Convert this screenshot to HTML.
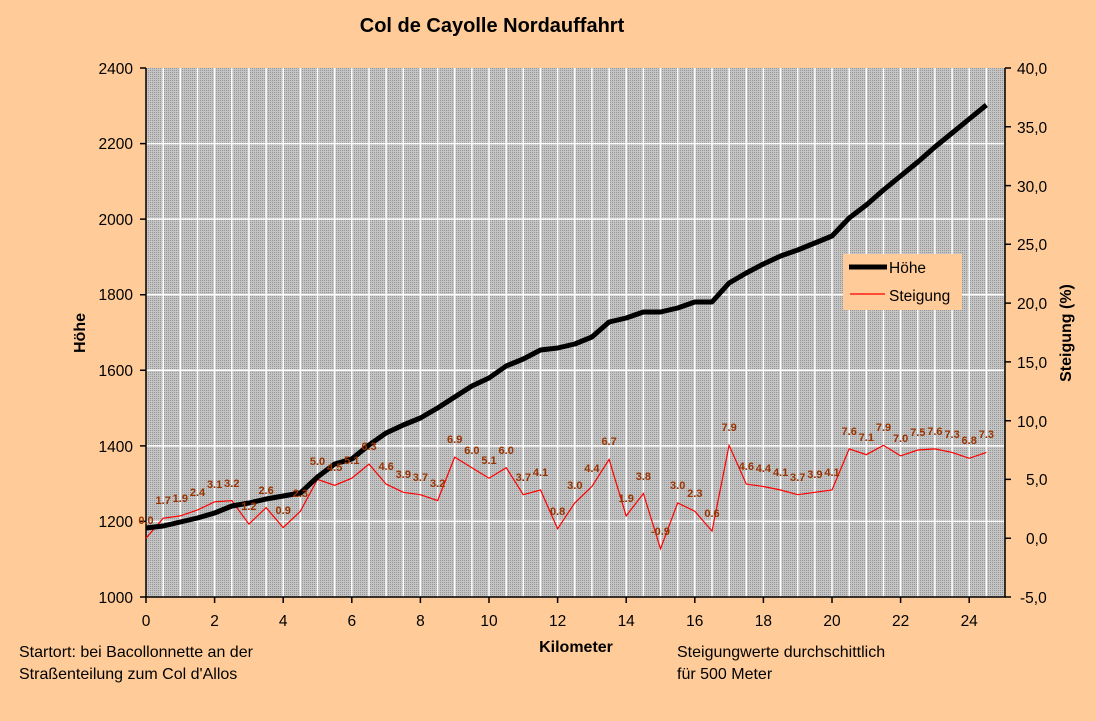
<!DOCTYPE html>
<html><head><meta charset="utf-8"><style>
body{margin:0;background:#ffcc99;}
svg{display:block;font-family:"Liberation Sans",Arial,sans-serif;}
</style></head><body>
<svg width="1096" height="721" viewBox="0 0 1096 721" xmlns="http://www.w3.org/2000/svg">
<defs>
<pattern id="dots" width="2" height="2" patternUnits="userSpaceOnUse">
<rect width="2" height="2" fill="#c4c4c4"/><rect width="1" height="1" fill="#969696"/>
</pattern>
</defs>
<rect width="1096" height="721" fill="#ffcc99"/>
<text x="492" y="32" font-size="20" font-weight="bold" text-anchor="middle">Col de Cayolle Nordauffahrt</text>
<rect x="146" y="68" width="859" height="529" fill="url(#dots)"/>
<g stroke="#fff" stroke-width="1.5">
<path d="M163.2 68V597M180.3 68V597M197.5 68V597M214.6 68V597M231.8 68V597M248.9 68V597M266.1 68V597M283.2 68V597M300.4 68V597M317.5 68V597M334.7 68V597M351.8 68V597M369 68V597M386.1 68V597M403.3 68V597M420.4 68V597M437.6 68V597M454.7 68V597M471.9 68V597M489 68V597M506.2 68V597M523.3 68V597M540.5 68V597M557.6 68V597M574.8 68V597M591.9 68V597M609.1 68V597M626.2 68V597M643.4 68V597M660.5 68V597M677.7 68V597M694.8 68V597M712 68V597M729.1 68V597M746.3 68V597M763.4 68V597M780.6 68V597M797.7 68V597M814.9 68V597M832 68V597M849.2 68V597M866.3 68V597M883.5 68V597M900.6 68V597M917.8 68V597M934.9 68V597M952.1 68V597M969.2 68V597M986.4 68V597"/>
<path d="M146 521.4H1004M146 445.9H1004M146 370.3H1004M146 294.7H1004M146 219.1H1004M146 143.6H1004"/>
</g>
<g stroke="#000" stroke-width="1.5" fill="none">
<path d="M146 68V597H1005V68"/>
<path d="M140 597H146M140 521.4H146M140 445.9H146M140 370.3H146M140 294.7H146M140 219.1H146M140 143.6H146M140 68H146"/>
<path d="M146 597V603M214.6 597V603M283.2 597V603M351.8 597V603M420.4 597V603M489 597V603M557.6 597V603M626.2 597V603M694.8 597V603M763.4 597V603M832 597V603M900.6 597V603M969.2 597V603"/>
<path d="M1005 68H1011M1005 126.8H1011M1005 185.6H1011M1005 244.3H1011M1005 303.1H1011M1005 361.9H1011M1005 420.7H1011M1005 479.4H1011M1005 538.2H1011M1005 597H1011"/>
</g>
<g font-size="15.5" text-anchor="end">
<text x="133" y="603">1000</text><text x="133" y="527">1200</text><text x="133" y="452">1400</text><text x="133" y="376">1600</text><text x="133" y="300">1800</text><text x="133" y="225">2000</text><text x="133" y="149">2200</text><text x="133" y="74">2400</text>
</g>
<g font-size="15.5" text-anchor="start">
<text x="1017" y="74">40,0</text><text x="1017" y="133">35,0</text><text x="1017" y="192">30,0</text><text x="1017" y="250">25,0</text><text x="1017" y="309">20,0</text><text x="1017" y="368">15,0</text><text x="1017" y="427">10,0</text><text x="1026" y="485">5,0</text><text x="1026" y="544">0,0</text><text x="1020" y="603">-5,0</text>
</g>
<g font-size="15.5" text-anchor="middle">
<text x="146" y="626">0</text><text x="214.6" y="626">2</text><text x="283.2" y="626">4</text><text x="351.8" y="626">6</text><text x="420.4" y="626">8</text><text x="489" y="626">10</text><text x="557.6" y="626">12</text><text x="626.2" y="626">14</text><text x="694.8" y="626">16</text><text x="763.4" y="626">18</text><text x="832" y="626">20</text><text x="900.6" y="626">22</text><text x="969.2" y="626">24</text>
</g>
<text x="576" y="652" font-size="16" font-weight="bold" text-anchor="middle">Kilometer</text>
<text transform="translate(85,333) rotate(-90)" font-size="16" font-weight="bold" text-anchor="middle">Höhe</text>
<text transform="translate(1071,333) rotate(-90)" font-size="16" font-weight="bold" text-anchor="middle">Steigung (%)</text>
<polyline fill="none" stroke="#ff0000" stroke-width="1.2" points="146,538.2 163.2,518.2 180.3,515.9 197.5,510 214.6,501.8 231.8,500.6 248.9,524.1 266.1,507.6 283.2,527.6 300.4,511.2 317.5,479.4 334.7,485.3 351.8,478.2 369,464.1 386.1,484.1 403.3,492.3 420.4,494.7 437.6,500.6 454.7,457.1 471.9,467.7 489,478.2 506.2,467.7 523.3,494.7 540.5,490 557.6,528.8 574.8,502.9 591.9,486.5 609.1,459.4 626.2,515.9 643.4,493.5 660.5,548.8 677.7,502.9 694.8,511.2 712,531.1 729.1,445.3 746.3,484.1 763.4,486.5 780.6,490 797.7,494.7 814.9,492.3 832,490 849.2,448.9 866.3,454.7 883.5,445.3 900.6,455.9 917.8,450 934.9,448.9 952.1,452.4 969.2,458.3 986.4,452.4"/>
<polyline fill="none" stroke="#000" stroke-width="5" stroke-linejoin="round" points="146,528 163.2,526 180.3,522 197.5,518 214.6,513 231.8,506 248.9,503 266.1,499 283.2,496 300.4,493 317.5,477 334.7,464 351.8,459 369,445 386.1,433 403.3,425 420.4,418 437.6,408 454.7,397 471.9,386 489,378 506.2,366 523.3,359 540.5,350 557.6,348 574.8,344 591.9,337 609.1,322 626.2,318 643.4,312 660.5,312 677.7,308 694.8,302 712,302 729.1,283 746.3,273 763.4,264 780.6,256 797.7,250 814.9,243 832,236 849.2,218 866.3,205 883.5,190 900.6,176 917.8,162 934.9,147 952.1,133 969.2,119 986.4,105"/>
<g font-size="11" font-weight="bold" fill="#993300" text-anchor="middle">
<text x="146" y="524">0.0</text><text x="163.2" y="504">1.7</text><text x="180.3" y="502">1.9</text><text x="197.5" y="496">2.4</text><text x="214.6" y="488">3.1</text><text x="231.8" y="487">3.2</text><text x="248.9" y="510">1.2</text><text x="266.1" y="494">2.6</text><text x="283.2" y="514">0.9</text><text x="300.4" y="497">2.3</text><text x="317.5" y="465">5.0</text><text x="334.7" y="471">4.5</text><text x="351.8" y="464">5.1</text><text x="369" y="450">6.3</text><text x="386.1" y="470">4.6</text><text x="403.3" y="478">3.9</text><text x="420.4" y="481">3.7</text><text x="437.6" y="487">3.2</text><text x="454.7" y="443">6.9</text><text x="471.9" y="454">6.0</text><text x="489" y="464">5.1</text><text x="506.2" y="454">6.0</text><text x="523.3" y="481">3.7</text><text x="540.5" y="476">4.1</text><text x="557.6" y="515">0.8</text><text x="574.8" y="489">3.0</text><text x="591.9" y="472">4.4</text><text x="609.1" y="445">6.7</text><text x="626.2" y="502">1.9</text><text x="643.4" y="480">3.8</text><text x="660.5" y="535">-0.9</text><text x="677.7" y="489">3.0</text><text x="694.8" y="497">2.3</text><text x="712" y="517">0.6</text><text x="729.1" y="431">7.9</text><text x="746.3" y="470">4.6</text><text x="763.4" y="472">4.4</text><text x="780.6" y="476">4.1</text><text x="797.7" y="481">3.7</text><text x="814.9" y="478">3.9</text><text x="832" y="476">4.1</text><text x="849.2" y="435">7.6</text><text x="866.3" y="441">7.1</text><text x="883.5" y="431">7.9</text><text x="900.6" y="442">7.0</text><text x="917.8" y="436">7.5</text><text x="934.9" y="435">7.6</text><text x="952.1" y="438">7.3</text><text x="969.2" y="444">6.8</text><text x="986.4" y="438">7.3</text>
</g>
<rect x="843" y="254" width="119" height="56" fill="#ffcc99"/>
<line x1="849" y1="267" x2="887" y2="267" stroke="#000" stroke-width="5"/>
<text x="889" y="273" font-size="15.5">Höhe</text>
<line x1="850" y1="294" x2="885" y2="294" stroke="#ff0000" stroke-width="1.2"/>
<text x="889" y="301" font-size="15.5">Steigung</text>
<g font-size="16">
<text x="19" y="657">Startort: bei Bacollonnette an der</text>
<text x="19" y="679">Straßenteilung zum Col d'Allos</text>
<text x="677" y="657">Steigungwerte durchschittlich</text>
<text x="677" y="679">für 500 Meter</text>
</g>
</svg>
</body></html>
